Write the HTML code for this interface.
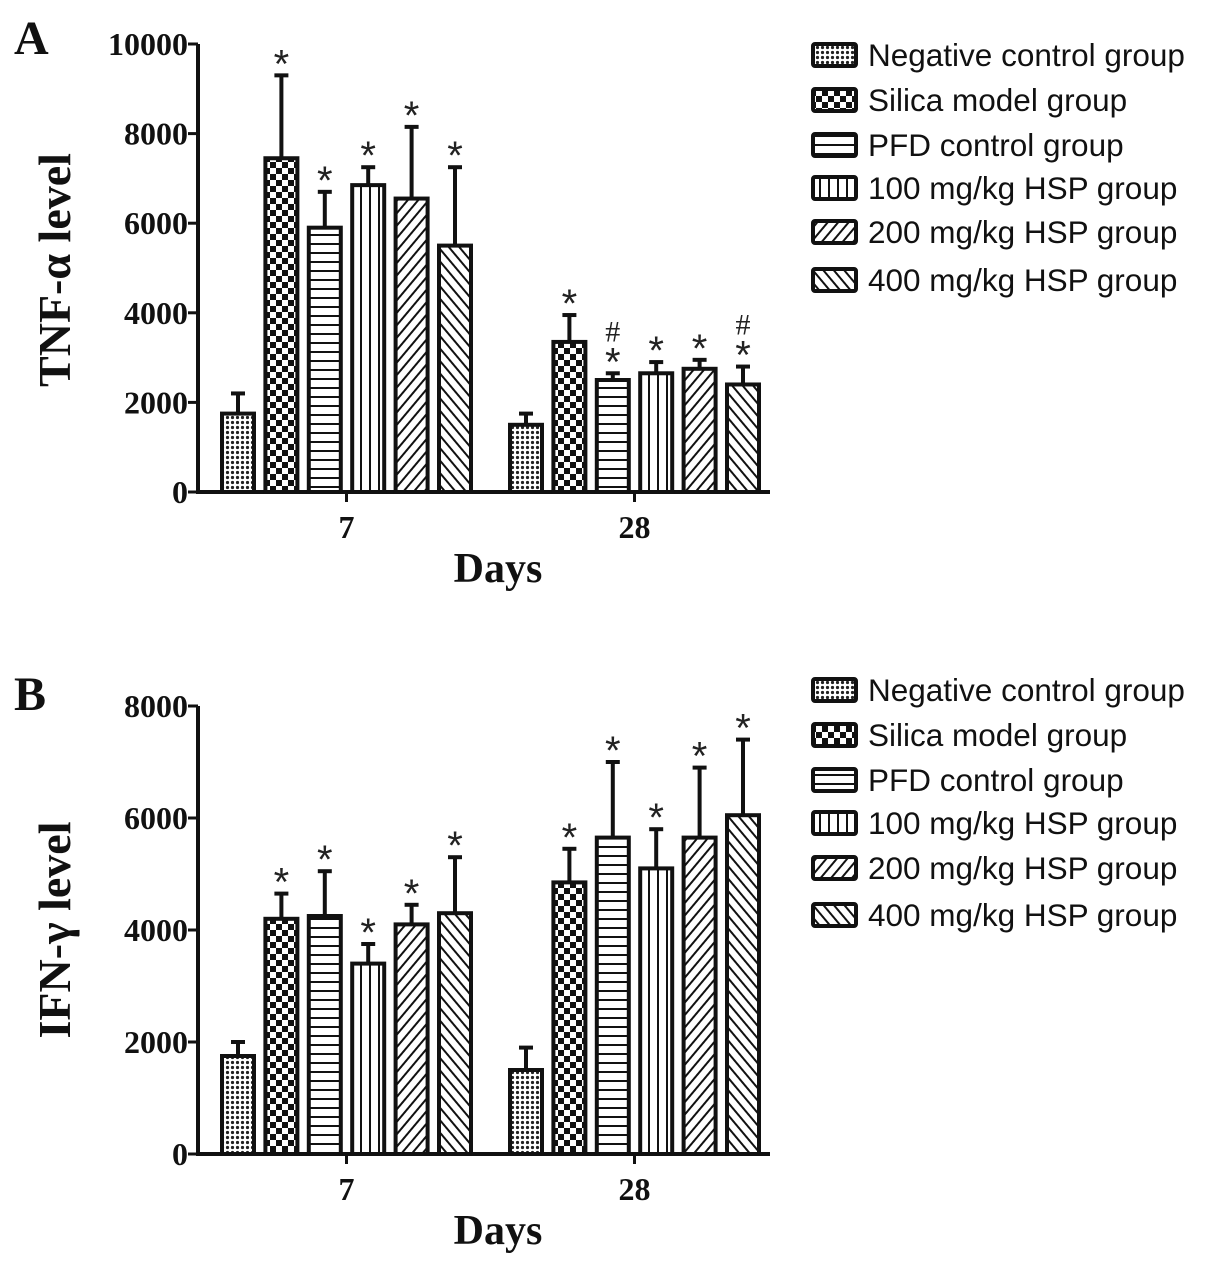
<!DOCTYPE html>
<html><head><meta charset="utf-8">
<style>
html,body{margin:0;padding:0;background:#fff;}
svg{display:block;}
.tk{font-family:"Liberation Serif",serif;font-weight:bold;font-size:32px;fill:#111;}
.ttl{font-family:"Liberation Serif",serif;font-weight:bold;font-size:42px;fill:#111;}
.ytl{font-family:"Liberation Serif",serif;font-weight:bold;font-size:46px;fill:#111;}
.let{font-family:"Liberation Serif",serif;font-weight:bold;font-size:48px;fill:#111;}
.lg{font-family:"Liberation Sans",sans-serif;font-size:31.5px;fill:#111;}
.mk{font-family:"Liberation Sans",sans-serif;font-size:40px;fill:#222;}
.hs{font-family:"Liberation Serif",serif;font-size:30px;fill:#222;}
</style></head>
<body>
<svg id="chart" width="1205" height="1271" viewBox="0 0 1205 1271" xmlns="http://www.w3.org/2000/svg">
<defs>
<pattern id="p0" width="5" height="5" patternUnits="userSpaceOnUse"><rect width="5" height="5" fill="#fff"/><circle cx="2.5" cy="2.5" r="1.6" fill="#222"/></pattern>
<pattern id="p1" width="12" height="12" patternUnits="userSpaceOnUse"><rect width="12" height="12" fill="#fff"/><rect width="6" height="6" fill="#111"/><rect x="6" y="6" width="6" height="6" fill="#111"/></pattern>
<pattern id="p2" width="10" height="9" patternUnits="userSpaceOnUse"><rect width="10" height="9" fill="#fff"/><rect y="0" width="10" height="2" fill="#111"/></pattern>
<pattern id="p3" width="9" height="10" patternUnits="userSpaceOnUse"><rect width="9" height="10" fill="#fff"/><rect x="0" width="2" height="10" fill="#111"/></pattern>
<pattern id="p4" width="8" height="8" patternUnits="userSpaceOnUse" patternTransform="rotate(40)"><rect width="8" height="8" fill="#fff"/><rect width="2" height="8" fill="#111"/></pattern>
<pattern id="p5" width="8" height="8" patternUnits="userSpaceOnUse" patternTransform="rotate(-40)"><rect width="8" height="8" fill="#fff"/><rect width="2" height="8" fill="#111"/></pattern>
</defs>
<g id="root"></g>
</svg>
<script>
const groups = ["Negative control group","Silica model group","PFD control group","100 mg/kg HSP group","200 mg/kg HSP group","400 mg/kg HSP group"];
const days = ["7","28"];
const tnfDay7 = [1750,7450,5900,6850,6550,5500];
const tnfDay7Err = [450,1850,800,400,1600,1750];
const tnfDay28 = [1500,3350,2500,2650,2750,2400];
const tnfDay28Err = [250,600,150,250,200,400];
const tnfMarks7 = ["","*","*","*","*","*"];
const tnfMarks28 = ["","*","*#","*","*","*#"];
const tnfTicks = [0,2000,4000,6000,8000,10000];
const ifnDay7 = [1750,4200,4250,3400,4100,4300];
const ifnDay7Err = [250,450,800,350,350,1000];
const ifnDay28 = [1500,4850,5650,5100,5650,6050];
const ifnDay28Err = [400,600,1350,700,1250,1350];
const ifnMarks7 = ["","*","*","*","*","*"];
const ifnMarks28 = ["","*","*","*","*","*"];
const ifnTicks = [0,2000,4000,6000,8000];

const NS="http://www.w3.org/2000/svg";
const root=document.getElementById('root');
function el(tag,attrs,parent,text){const e=document.createElementNS(NS,tag);for(const k in attrs)e.setAttribute(k,attrs[k]);if(text!==undefined)e.textContent=text;(parent||root).appendChild(e);return e;}

function panel(cfg){
  const g=el('g',{});
  
  
  const y=v=>cfg.y0-(v/cfg.max)*(cfg.y0-cfg.yTop);
  const ax=198, xEnd=770;
  const xGroup=[222,510];
  const step=43.4, bw=32;
  const L=el('text',{x:14,y:cfg.letterY,class:'let'},g,cfg.letter);
  
  
  const ya=el('line',{x1:ax,y1:cfg.y0+1,x2:ax,y2:y(cfg.max),stroke:'#111','stroke-width':4},g);
  
  
  const xa=el('line',{x1:ax-2,y1:cfg.y0,x2:xEnd,y2:cfg.y0,stroke:'#111','stroke-width':4},g);
  
  
  cfg.ticks.forEach(t=>{
    el('line',{x1:ax-10,y1:y(t),x2:ax,y2:y(t),stroke:'#111','stroke-width':3},g);
    const tl=el('text',{x:ax-10,y:y(t)+11,class:'tk','text-anchor':'end'},g,String(t));
    
    
  });
  const yt=el('text',{class:'ytl',transform:`translate(70,${cfg.titleY}) rotate(-90)`,'text-anchor':'middle'},g,cfg.ytitle);
  
  
  const sets=[[cfg.d7,cfg.e7,cfg.m7],[cfg.d28,cfg.e28,cfg.m28]];
  sets.forEach((s,gi)=>{
    const cx=xGroup[gi]+2.5*step+bw/2;
    el('line',{x1:cx,y1:cfg.y0,x2:cx,y2:cfg.y0+10,stroke:'#111','stroke-width':3},g);
    const dl=el('text',{x:cx,y:cfg.y0+46,class:'tk','text-anchor':'middle'},g,days[gi]);
    
    
    s[0].forEach((v,i)=>{
      const x=xGroup[gi]+i*step, top=y(v), et=y(v+s[1][i]), bx=x+bw/2;
      const eb=el('line',{x1:bx,y1:top,x2:bx,y2:et,stroke:'#111','stroke-width':4},g);
      
      
      el('line',{x1:bx-7,y1:et,x2:bx+7,y2:et,stroke:'#111','stroke-width':4},g);
      const r=el('rect',{x:x,y:top,width:bw,height:cfg.y0-top,fill:`url(#p${i})`,stroke:'#111','stroke-width':4},g);
      
      
      const m=s[2][i];
      if(m.includes('*')){
        const t=el('text',{x:bx,y:et+2,class:'mk','text-anchor':'middle'},g,'*');
        
        
      }
      if(m.includes('#')){
        const t=el('text',{x:bx,y:et-32,class:'hs','text-anchor':'middle'},g,'#');
        
        
      }
    });
  });
  const xt=el('text',{x:498,y:cfg.y0+90,class:'ttl','text-anchor':'middle'},g,'Days');
  
  
  groups.forEach((name,i)=>{
    const ly=cfg.legY[i];
    const le=el('g',{},g);
    
    
    el('rect',{x:813,y:ly-11,width:43,height:22,fill:`url(#p${i})`,stroke:'#111','stroke-width':4,rx:2},le);
    el('text',{x:868,y:ly+11,class:'lg'},le,name);
  });
}
panel({name:'panel-a-tnf',letter:'A',letterY:54,y0:492,yTop:44,max:10000,ticks:tnfTicks,ytitle:'TNF-α level',titleY:270,
  d7:tnfDay7,e7:tnfDay7Err,m7:tnfMarks7,d28:tnfDay28,e28:tnfDay28Err,m28:tnfMarks28,legY:[55,100,145,188,232,280]});
panel({name:'panel-b-ifn',letter:'B',letterY:710,y0:1154,yTop:706,max:8000,ticks:ifnTicks,ytitle:'IFN-γ level',titleY:930,
  d7:ifnDay7,e7:ifnDay7Err,m7:ifnMarks7,d28:ifnDay28,e28:ifnDay28Err,m28:ifnMarks28,legY:[690,735,780,823,868,915]});
</script>
</body></html>
